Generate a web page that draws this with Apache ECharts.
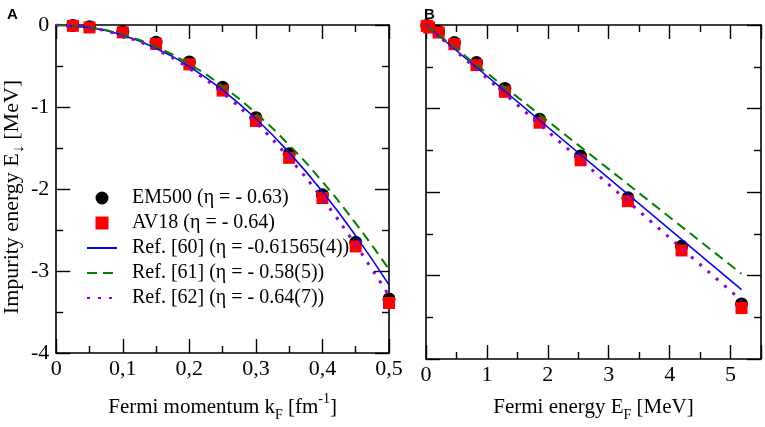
<!DOCTYPE html>
<html>
<head>
<meta charset="utf-8">
<script src="https://cdn.jsdelivr.net/npm/echarts@6/dist/echarts.min.js"></script>
<style>
  html, body { margin: 0; padding: 0; background: #fff; }
  #chart { width: 765px; height: 427px; }
</style>
</head>
<body>
<div id="chart"></div>
<script>
// valeurs
const kF = [0.025, 0.05, 0.1, 0.15, 0.2, 0.25, 0.3, 0.35, 0.4, 0.45, 0.5];
const eF = [0.013, 0.052, 0.207, 0.466, 0.829, 1.295, 1.865, 2.538, 3.315, 4.196, 5.18];
const em500 = [-0.005, -0.02, -0.08, -0.21, -0.45, -0.76, -1.13, -1.57, -2.07, -2.65, -3.34];
const av18 = [-0.01, -0.03, -0.09, -0.23, -0.48, -0.80, -1.17, -1.62, -2.11, -2.70, -3.39];

// courbes de référence (panneau A, en fonction de kF)
const kLine = [0, 0.05, 0.1, 0.15, 0.2, 0.25, 0.3, 0.35, 0.4, 0.45, 0.5];
const ref60 = [0, -0.032, -0.127, -0.286, -0.508, -0.794, -1.143, -1.556, -2.032, -2.572, -3.17];
const ref61 = [0, -0.030, -0.120, -0.269, -0.478, -0.747, -1.076, -1.464, -1.912, -2.42, -2.98];
const ref62 = [0, -0.033, -0.133, -0.298, -0.530, -0.828, -1.193, -1.623, -2.120, -2.683, -3.30];

// panneau B : droites en fonction de EF
const eLine = [0, 5.18];
const ref60B = [0, -3.17];
const ref61B = [0, -2.98];
const ref62B = [0, -3.30];

const names = [
  'EM500 (η = - 0.63)',
  'AV18 (η = - 0.64)',
  'Ref. [60] (η = -0.61565(4))',
  'Ref. [61] (η = - 0.58(5))',
  'Ref. [62] (η = - 0.64(7))'
];

const SERIF = "'Liberation Serif', 'Times New Roman', serif";
const BLUE = '#0000ff', GREEN = '#008000', VIOLET = '#9400d3';
const DASH = [10, 6], DOT = [3, 8];
const zip = (xs, ys) => xs.map((x, i) => [x, ys[i]]);

const axisLine = { show: true, onZero: false, lineStyle: { color: '#000', width: 1.6 } };
const axisTick = { show: true, inside: true, length: 14, lineStyle: { color: '#000', width: 1.4 } };
const minorTick = { show: true, splitNumber: 2, length: 7, lineStyle: { color: '#000', width: 1.4 } };
const labelStyle = { fontFamily: SERIF, fontSize: 22, color: '#000' };

function xAx(grid, max, interval, pos, show, fmt, name, gap) {
  return {
    type: 'value', gridIndex: grid, position: pos, min: 0, max: max, interval: interval,
    axisLine, axisTick, minorTick,
    splitLine: { show: false },
    axisLabel: Object.assign({ show: show, margin: 5, formatter: fmt, showMaxLabel: max === 0.5 }, labelStyle),
    name: name || '', nameLocation: 'middle', nameGap: gap || 38,
    nameTextStyle: {
      fontFamily: SERIF, fontSize: 21, color: '#000',
      rich: {
        sub: { fontFamily: SERIF, fontSize: 14, color: '#000', verticalAlign: 'bottom', lineHeight: 30 },
        sup: { fontFamily: SERIF, fontSize: 14, color: '#000', verticalAlign: 'top', lineHeight: 30 }
      }
    }
  };
}

function yAx(grid, pos, show, name) {
  return {
    type: 'value', gridIndex: grid, position: pos, min: -4, max: 0, interval: 1,
    axisLine, axisTick, minorTick,
    splitLine: { show: false },
    axisLabel: Object.assign({ show: show, margin: 7 }, labelStyle),
    name: name || '', nameLocation: 'middle', nameGap: 28, nameRotate: 90,
    nameTextStyle: {
      fontFamily: SERIF, fontSize: 22, color: '#000', padding: [0, 16, 0, 0],
      rich: {
        sub: { fontFamily: SERIF, fontSize: 16, color: '#000', verticalAlign: 'bottom', lineHeight: 30 }
      }
    }
  };
}

const fmtK = v => v === 0 ? '0' : v.toFixed(1).replace('.', ',');
const fmtE = v => String(v);

const panelTitle = { fontFamily: 'Liberation Sans', fontWeight: 'bold', fontSize: 15, color: '#000' };

const chart = echarts.init(document.getElementById('chart'));
const option = {
  animation: false,
  backgroundColor: '#fff',
  title: [
    { text: 'A', left: 2, top: 2, textStyle: panelTitle },
    { text: 'B', left: 419, top: 2, textStyle: panelTitle }
  ],
  grid: [
    { left: 54, right: 376, top: 25, bottom: 67 },
    { left: 426, right: 4, top: 25, bottom: 67 }
  ],
  xAxis: [
    xAx(0, 0.5, 0.1, 'bottom', true, fmtK, 'Fermi momentum k{sub|F} [fm{sup|-1}]', 39),
    xAx(0, 0.5, 0.1, 'top', false, fmtK),
    xAx(1, 5.5, 1, 'bottom', true, fmtE, 'Fermi energy E{sub|F} [MeV]', 33),
    xAx(1, 5.5, 1, 'top', false, fmtE)
  ],
  yAxis: [
    yAx(0, 'left', true, 'Impurity energy E{sub|↓} [MeV]'),
    yAx(0, 'right', false),
    yAx(1, 'left', false),
    yAx(1, 'right', false)
  ],
  legend: {
    orient: 'vertical', left: 81, top: 183,
    itemWidth: 30, itemHeight: 13, itemGap: 5,
    data: [
      { name: names[0], icon: 'circle' },
      { name: names[1], icon: 'path://M0,0L10,0L10,10L0,10Z' },
      { name: names[2], itemStyle: { opacity: 0 } },
      { name: names[3], itemStyle: { opacity: 0 } },
      { name: names[4], itemStyle: { opacity: 0 } }
    ],
    textStyle: { fontFamily: SERIF, fontSize: 20, color: '#000', padding: [0, 0, 0, 10] }
  },
  series: [
    // panneau A
    { name: names[0], type: 'scatter', xAxisIndex: 0, yAxisIndex: 0, symbol: 'circle', symbolSize: 13,
      itemStyle: { color: '#000', opacity: 1 }, data: zip(kF, em500) },
    { name: names[1], type: 'scatter', xAxisIndex: 0, yAxisIndex: 0, symbol: 'rect', symbolSize: 12,
      itemStyle: { color: '#ff0000', opacity: 1 }, data: zip(kF, av18) },
    { name: names[2], type: 'line', xAxisIndex: 0, yAxisIndex: 0, symbol: 'none', smooth: true,
      lineStyle: { color: BLUE, width: 1.6 }, itemStyle: { color: BLUE }, data: zip(kLine, ref60) },
    { name: names[3], type: 'line', xAxisIndex: 0, yAxisIndex: 0, symbol: 'none', smooth: true,
      lineStyle: { color: GREEN, width: 2, type: DASH }, itemStyle: { color: GREEN }, data: zip(kLine, ref61) },
    { name: names[4], type: 'line', xAxisIndex: 0, yAxisIndex: 0, symbol: 'none', smooth: true,
      lineStyle: { color: VIOLET, width: 3, type: DOT }, itemStyle: { color: VIOLET }, data: zip(kLine, ref62) },
    // panneau B
    { name: names[0], type: 'scatter', xAxisIndex: 2, yAxisIndex: 2, symbol: 'circle', symbolSize: 13,
      itemStyle: { color: '#000', opacity: 1 }, data: zip(eF, em500) },
    { name: names[1], type: 'scatter', xAxisIndex: 2, yAxisIndex: 2, symbol: 'rect', symbolSize: 12,
      itemStyle: { color: '#ff0000', opacity: 1 }, data: zip(eF, av18) },
    { name: names[2], type: 'line', xAxisIndex: 2, yAxisIndex: 2, symbol: 'none',
      lineStyle: { color: BLUE, width: 1.6 }, itemStyle: { color: BLUE }, data: zip(eLine, ref60B) },
    { name: names[3], type: 'line', xAxisIndex: 2, yAxisIndex: 2, symbol: 'none',
      lineStyle: { color: GREEN, width: 2, type: DASH }, itemStyle: { color: GREEN }, data: zip(eLine, ref61B) },
    { name: names[4], type: 'line', xAxisIndex: 2, yAxisIndex: 2, symbol: 'none',
      lineStyle: { color: VIOLET, width: 3, type: DOT }, itemStyle: { color: VIOLET }, data: zip(eLine, ref62B) }
  ]
};
chart.setOption(option);
</script>
</body>
</html>
